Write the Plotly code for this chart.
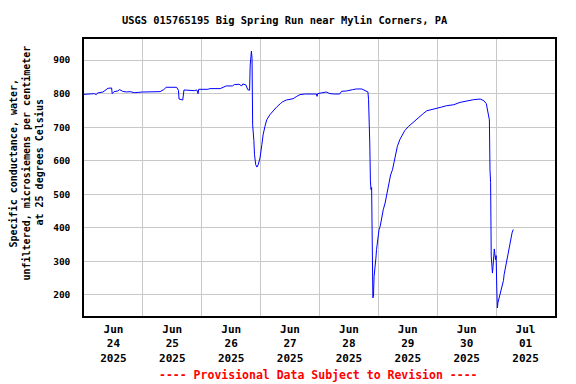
import plotly.graph_objects as go

title_text = "USGS 015765195 Big Spring Run near Mylin Corners, PA"
y_title_lines = ["Specific conductance, water,",
                 "unfiltered, microsiemens per centimeter",
                 "at 25 degrees Celsius"]
footer_text = "---- Provisional Data Subject to Revision ----"

times = [
    "2025-06-24 00:00", "2025-06-24 02:30", "2025-06-24 04:15", "2025-06-24 05:00", "2025-06-24 05:30",
    "2025-06-24 07:45", "2025-06-24 09:00", "2025-06-24 09:45", "2025-06-24 11:15", "2025-06-24 11:30",
    "2025-06-24 12:15", "2025-06-24 13:45", "2025-06-24 14:30", "2025-06-24 15:45", "2025-06-24 17:15",
    "2025-06-24 18:45", "2025-06-24 20:30", "2025-06-24 22:15", "2025-06-25 00:00", "2025-06-25 07:00",
    "2025-06-25 08:30", "2025-06-25 09:30", "2025-06-25 13:45", "2025-06-25 14:30", "2025-06-25 14:45",
    "2025-06-25 16:15", "2025-06-25 16:45", "2025-06-25 21:00", "2025-06-25 22:00", "2025-06-25 22:30",
    "2025-06-25 22:45", "2025-06-26 02:30", "2025-06-26 03:15", "2025-06-26 07:30", "2025-06-26 08:45",
    "2025-06-26 10:00", "2025-06-26 12:30", "2025-06-26 13:15", "2025-06-26 15:15", "2025-06-26 16:15",
    "2025-06-26 16:45", "2025-06-26 18:00", "2025-06-26 18:45", "2025-06-26 19:30", "2025-06-26 19:45",
    "2025-06-26 20:00", "2025-06-26 20:15", "2025-06-26 20:30", "2025-06-26 20:45", "2025-06-26 21:15",
    "2025-06-26 21:30", "2025-06-26 22:00", "2025-06-26 22:30", "2025-06-26 23:00", "2025-06-26 23:45",
    "2025-06-27 00:30", "2025-06-27 01:00", "2025-06-27 01:45", "2025-06-27 02:30", "2025-06-27 03:45",
    "2025-06-27 05:00", "2025-06-27 06:30", "2025-06-27 08:00", "2025-06-27 09:00", "2025-06-27 10:30",
    "2025-06-27 13:15", "2025-06-27 14:45", "2025-06-27 16:00", "2025-06-27 18:00", "2025-06-27 22:45",
    "2025-06-27 23:00", "2025-06-27 23:15", "2025-06-28 02:45", "2025-06-28 04:15", "2025-06-28 06:15",
    "2025-06-28 08:15", "2025-06-28 09:00", "2025-06-28 11:00", "2025-06-28 13:30", "2025-06-28 15:00",
    "2025-06-28 17:15", "2025-06-28 17:45", "2025-06-28 18:30", "2025-06-28 19:45", "2025-06-28 20:00",
    "2025-06-28 20:15", "2025-06-28 20:30", "2025-06-28 20:45", "2025-06-28 21:00", "2025-06-28 21:15",
    "2025-06-28 21:30", "2025-06-28 21:45", "2025-06-28 22:00", "2025-06-28 22:15", "2025-06-28 22:30",
    "2025-06-28 23:00", "2025-06-28 23:15", "2025-06-28 23:45", "2025-06-29 00:15", "2025-06-29 00:45",
    "2025-06-29 01:15", "2025-06-29 01:45", "2025-06-29 02:00", "2025-06-29 02:45", "2025-06-29 03:15",
    "2025-06-29 04:00", "2025-06-29 04:30", "2025-06-29 05:00", "2025-06-29 05:45", "2025-06-29 06:45",
    "2025-06-29 07:45", "2025-06-29 08:45", "2025-06-29 09:45", "2025-06-29 10:45", "2025-06-29 12:15",
    "2025-06-29 14:30", "2025-06-29 16:15", "2025-06-29 18:30", "2025-06-29 19:45", "2025-06-29 21:45",
    "2025-06-29 23:45", "2025-06-30 01:45", "2025-06-30 03:45", "2025-06-30 06:45", "2025-06-30 09:15",
    "2025-06-30 12:00", "2025-06-30 14:45", "2025-06-30 17:30", "2025-06-30 19:00", "2025-06-30 20:00",
    "2025-06-30 20:30", "2025-06-30 21:00", "2025-06-30 21:15", "2025-06-30 21:30", "2025-06-30 21:45",
    "2025-06-30 22:00", "2025-06-30 22:15", "2025-06-30 22:30", "2025-06-30 22:45", "2025-06-30 23:00",
    "2025-06-30 23:15", "2025-06-30 23:45", "2025-07-01 00:00", "2025-07-01 00:15", "2025-07-01 00:30",
    "2025-07-01 00:45", "2025-07-01 01:15", "2025-07-01 01:45", "2025-07-01 02:30", "2025-07-01 03:00",
    "2025-07-01 03:15", "2025-07-01 04:00", "2025-07-01 04:45", "2025-07-01 05:30", "2025-07-01 06:00",
    "2025-07-01 06:30", "2025-07-01 07:00",
]

conductance = [
    798, 798, 800, 797, 802,
    805, 811, 816, 817, 800,
    806, 808, 812, 807, 805,
    806, 803, 803, 805, 806,
    812, 819, 819, 810, 784,
    781, 811, 809, 811, 800,
    813, 813, 815, 815, 820,
    823, 823, 827, 828, 823,
    829, 826, 812, 810, 885,
    916, 927, 905, 707, 660,
    618, 588, 581, 588, 608,
    648, 677, 702, 722, 737,
    749, 760, 770, 776, 781,
    785, 792, 797, 799, 799,
    792, 800, 805, 800, 799,
    799, 807, 808, 812, 814,
    814, 812, 808, 805, 782,
    740, 650, 540, 514, 520,
    414, 191, 196, 255, 285,
    310, 335, 370, 394, 405,
    429, 440, 454, 474, 494,
    514, 538, 558, 573, 608,
    643, 663, 677, 690, 702,
    717, 729, 742, 749, 752,
    755, 760, 764, 767, 774,
    779, 782, 784, 779, 770,
    752, 727, 722, 573, 535,
    315, 275, 265, 285, 330,
    337, 305, 317, 226, 161,
    177, 190, 206, 226, 243,
    260, 290, 315, 340, 364,
    385, 395,
]

tick_positions = ["2025-06-24 12:00", "2025-06-25 12:00", "2025-06-26 12:00", "2025-06-27 12:00",
                  "2025-06-28 12:00", "2025-06-29 12:00", "2025-06-30 12:00", "2025-07-01 12:00"]
tick_labels = ["Jun<br>24<br>2025", "Jun<br>25<br>2025", "Jun<br>26<br>2025", "Jun<br>27<br>2025",
               "Jun<br>28<br>2025", "Jun<br>29<br>2025", "Jun<br>30<br>2025", "Jul<br>01<br>2025"]
y_ticks = [200, 300, 400, 500, 600, 700, 800, 900]

FONT = "DejaVu Sans Mono"
L, R, T, B = 84, 21, 39, 68
W, H = 576, 384
pw, ph = W - L - R, H - T - B

fig = go.Figure()
fig.add_trace(go.Scatter(x=times, y=conductance, mode="lines",
                         line=dict(color="#0000ff", width=1), hoverinfo="skip"))

fig.update_layout(
    width=W, height=H, margin=dict(l=L, r=R, t=T, b=B),
    paper_bgcolor="white", plot_bgcolor="white", showlegend=False,
    font=dict(family=FONT, size=10, color="black"),
)
fig.update_xaxes(
    range=["2025-06-24 00:00", "2025-07-02 00:00"],
    tickmode="array", tickvals=tick_positions, ticktext=tick_labels,
    tickfont=dict(family=FONT, size=11, color="black", weight="bold"),
    showgrid=False, ticks="", ticklen=0, ticklabelstandoff=2,
    minor=dict(dtick=86400000, tick0="2025-06-24", showgrid=True, gridcolor="#c8c8c8", gridwidth=1, ticks=""),
    showline=True, linecolor="black", linewidth=1.5, mirror=True, zeroline=False,
)
fig.update_yaxes(
    range=[137, 963], tickmode="array", tickvals=y_ticks,
    tickfont=dict(family=FONT, size=9.5, color="black", weight="bold"),
    showgrid=True, gridcolor="#c8c8c8", gridwidth=1, ticks="", ticklabelstandoff=10,
    showline=True, linecolor="black", linewidth=1.5, mirror=True, zeroline=False,
)

annotations = [
    dict(text=title_text, x=(284.5 - L) / pw, y=(H - B - 20) / ph, xref="paper", yref="paper",
         xanchor="center", yanchor="middle", showarrow=False,
         font=dict(family=FONT, size=10.4, color="black", weight="bold")),
    dict(text=footer_text, x=(318.5 - L) / pw, y=(H - B - 375) / ph, xref="paper", yref="paper",
         xanchor="center", yanchor="middle", showarrow=False,
         font=dict(family=FONT, size=11.5, color="#ff0000", weight="bold")),
]
for i, line in enumerate(y_title_lines):
    cx = 12.5 + 13.0 * i
    annotations.append(dict(text=line, x=(cx - L) / pw, y=(H - B - 163) / ph, xref="paper", yref="paper",
                            xanchor="center", yanchor="middle", showarrow=False, textangle=-90,
                            font=dict(family=FONT, size=10, color="black", weight="bold")))
fig.update_layout(annotations=annotations)

fig.write_html("out.html", config={"displayModeBar": False},
               post_script="document.body.style.margin='0';document.body.style.overflow='hidden';")
